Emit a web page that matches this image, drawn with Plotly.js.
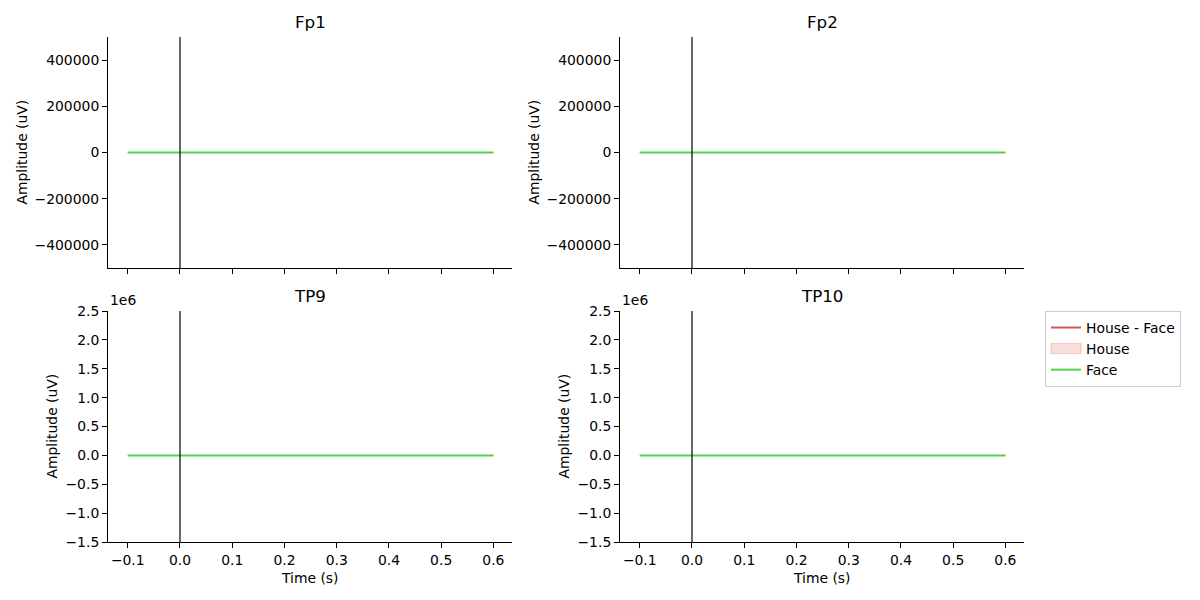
<!DOCTYPE html>
<html>
<head>
<meta charset="utf-8">
<script src="https://cdn.plot.ly/plotly-3.0.1.min.js"></script>
<style>html,body{margin:0;padding:0;background:#fff;} #chart{width:1200px;height:600px;}</style>
</head>
<body>
<div id="chart"></div>
<script>
// ---- data ----
const channels = ["Fp1", "Fp2", "TP9", "TP10"];
const times = [-0.1, 0.0, 0.1, 0.2, 0.3, 0.4, 0.5, 0.6];
const faceValues = [0, 0, 0, 0, 0, 0, 0, 0];
const diffValues = [0, 0, 0, 0, 0, 0, 0, 0];
const houseUpper = [0, 0, 0, 0, 0, 0, 0, 0];
const houseLower = [0, 0, 0, 0, 0, 0, 0, 0];
const xTickVals = [-0.1, 0.0, 0.1, 0.2, 0.3, 0.4, 0.5, 0.6];
const xTickText = ["\u22120.1", "0.0", "0.1", "0.2", "0.3", "0.4", "0.5", "0.6"];
const topYTickVals = [400000, 200000, 0, -200000, -400000];
const topYTickText = ["400000", "200000", "0", "\u2212200000", "\u2212400000"];
const botYTickVals = [2.5e6, 2.0e6, 1.5e6, 1.0e6, 0.5e6, 0, -0.5e6, -1.0e6, -1.5e6];
const botYTickText = ["2.5", "2.0", "1.5", "1.0", "0.5", "0.0", "\u22120.5", "\u22121.0", "\u22121.5"];
const topYRange = [-500000, 500000];
const botYRange = [-1.5e6, 2.5e6];
const xRange = [-0.1378, 0.6356];

const FONT = "DejaVu Sans, sans-serif";
const FS = 13.9;
const RED = "#d9534f";
const PINK = "rgba(230,120,110,0.25)";
const GREEN = "#4fd34f";
const W = 1200, H = 600;

// pixel layout (left, right, top, bottom) for each subplot
const boxes = [
  [108, 512, 37, 268],
  [620, 1024, 37, 268],
  [108, 512, 311, 542],
  [620, 1024, 311, 542]
];

const traces = [];
const layout = {
  width: W, height: H,
  margin: {l: 0, r: 0, t: 0, b: 0},
  paper_bgcolor: "#fff", plot_bgcolor: "#fff",
  font: {family: FONT, size: FS, color: "#000"},
  showlegend: true,
  legend: {
    x: 1045 / W, y: 1 - 311 / H, xanchor: "left", yanchor: "top",
    bgcolor: "#fff", bordercolor: "#cccccc", borderwidth: 1,
    font: {family: FONT, size: FS, color: "#000"},
    traceorder: "normal", itemwidth: 30, tracegroupgap: 0
  },
  annotations: [], shapes: []
};

channels.forEach((ch, i) => {
  const n = i + 1;
  const xa = "x" + (n === 1 ? "" : n), ya = "y" + (n === 1 ? "" : n);
  const xk = "xaxis" + (n === 1 ? "" : n), yk = "yaxis" + (n === 1 ? "" : n);
  const [l, r, t, b] = boxes[i];
  const top = i < 2;

  // House (fill band)
  traces.push({
    x: times.concat(times.slice().reverse()),
    y: houseUpper.concat(houseLower.slice().reverse()),
    xaxis: xa, yaxis: ya, type: "scatter", mode: "lines",
    fill: "toself", fillcolor: PINK, line: {width: 0, color: PINK},
    name: "House", legendgroup: "house", showlegend: i === 0, hoverinfo: "skip",
    legendrank: 2
  });
  // House - Face
  traces.push({
    x: times, y: diffValues, xaxis: xa, yaxis: ya, type: "scatter", mode: "lines",
    line: {color: RED, width: 0.6},
    name: "House - Face", legendgroup: "diff", showlegend: i === 0,
    legendrank: 1
  });
  // Face (drawn on top)
  traces.push({
    x: times, y: faceValues, xaxis: xa, yaxis: ya, type: "scatter", mode: "lines",
    line: {color: GREEN, width: 2},
    name: "Face", legendgroup: "face", showlegend: i === 0,
    legendrank: 3
  });

  layout[xk] = {
    domain: [l / W, r / W], anchor: ya, range: xRange,
    showgrid: false, zeroline: false, showline: true, linecolor: "#000", linewidth: 1,
    ticks: "outside", ticklen: 5, tickwidth: 1, tickcolor: "#000",
    tickvals: xTickVals, ticktext: xTickText, showticklabels: !top,
    tickfont: {family: FONT, size: FS, color: "#000"}
  };
  layout[yk] = {
    domain: [1 - b / H, 1 - t / H], anchor: xa, range: top ? topYRange : botYRange,
    showgrid: false, zeroline: false, showline: true, linecolor: "#000", linewidth: 1,
    ticks: "outside", ticklen: 5, tickwidth: 1, tickcolor: "#000",
    tickvals: top ? topYTickVals : botYTickVals, ticktext: top ? topYTickText : botYTickText,
    tickfont: {family: FONT, size: FS, color: "#000"}
  };

  // vertical line at t = 0
  layout.shapes.push({
    type: "line", xref: xa, yref: ya + " domain", x0: 0, x1: 0, y0: 0, y1: 1,
    line: {color: "#000", width: 1.2}, layer: "above"
  });

  // subplot title
  layout.annotations.push({
    text: ch, xref: "paper", yref: "paper", x: (l + r) / 2 / W, y: 1 - (t - 3) / H,
    xanchor: "center", yanchor: "bottom", showarrow: false,
    font: {family: FONT, size: 16.7, color: "#000"}
  });
  // y axis title
  layout.annotations.push({
    text: "Amplitude (uV)", xref: "paper", yref: "paper",
    x: (top ? (l - 87) : (l - 57)) / W, y: 1 - (t + b) / 2 / H,
    xanchor: "center", yanchor: "middle", textangle: -90, showarrow: false,
    font: {family: FONT, size: FS, color: "#000"}
  });
  if (!top) {
    layout.annotations.push({
      text: "Time (s)", xref: "paper", yref: "paper", x: (l + r) / 2 / W, y: 1 - 578 / H,
      xanchor: "center", yanchor: "middle", showarrow: false,
      font: {family: FONT, size: FS, color: "#000"}
    });
    layout.annotations.push({
      text: "1e6", xref: "paper", yref: "paper", x: l / W, y: 1 - (t - 1) / H,
      xanchor: "left", yanchor: "bottom", showarrow: false,
      font: {family: FONT, size: FS, color: "#000"}
    });
  }
});

Plotly.newPlot("chart", traces, layout, {staticPlot: true, displayModeBar: false}).then(() => {
  document.querySelectorAll(".legend .traces").forEach(g => {
    const txt = g.querySelector(".legendtext");
    if (!txt) return;
    if (txt.textContent === "House - Face") {
      // legend symbol for the diff trace as a normal 2px red line
      g.querySelectorAll(".js-line").forEach(p => { p.style.strokeWidth = "2px"; });
    }
    if (txt.textContent === "House") {
      // patch-style symbol for the filled band
      g.querySelectorAll(".js-fill").forEach(p => {
        p.setAttribute("d", "M5,-5h30v10h-30z");
        p.style.stroke = "rgba(230,120,110,0.35)";
        p.style.strokeWidth = "1px";
      });
    }
  });
});
</script>
</body>
</html>
